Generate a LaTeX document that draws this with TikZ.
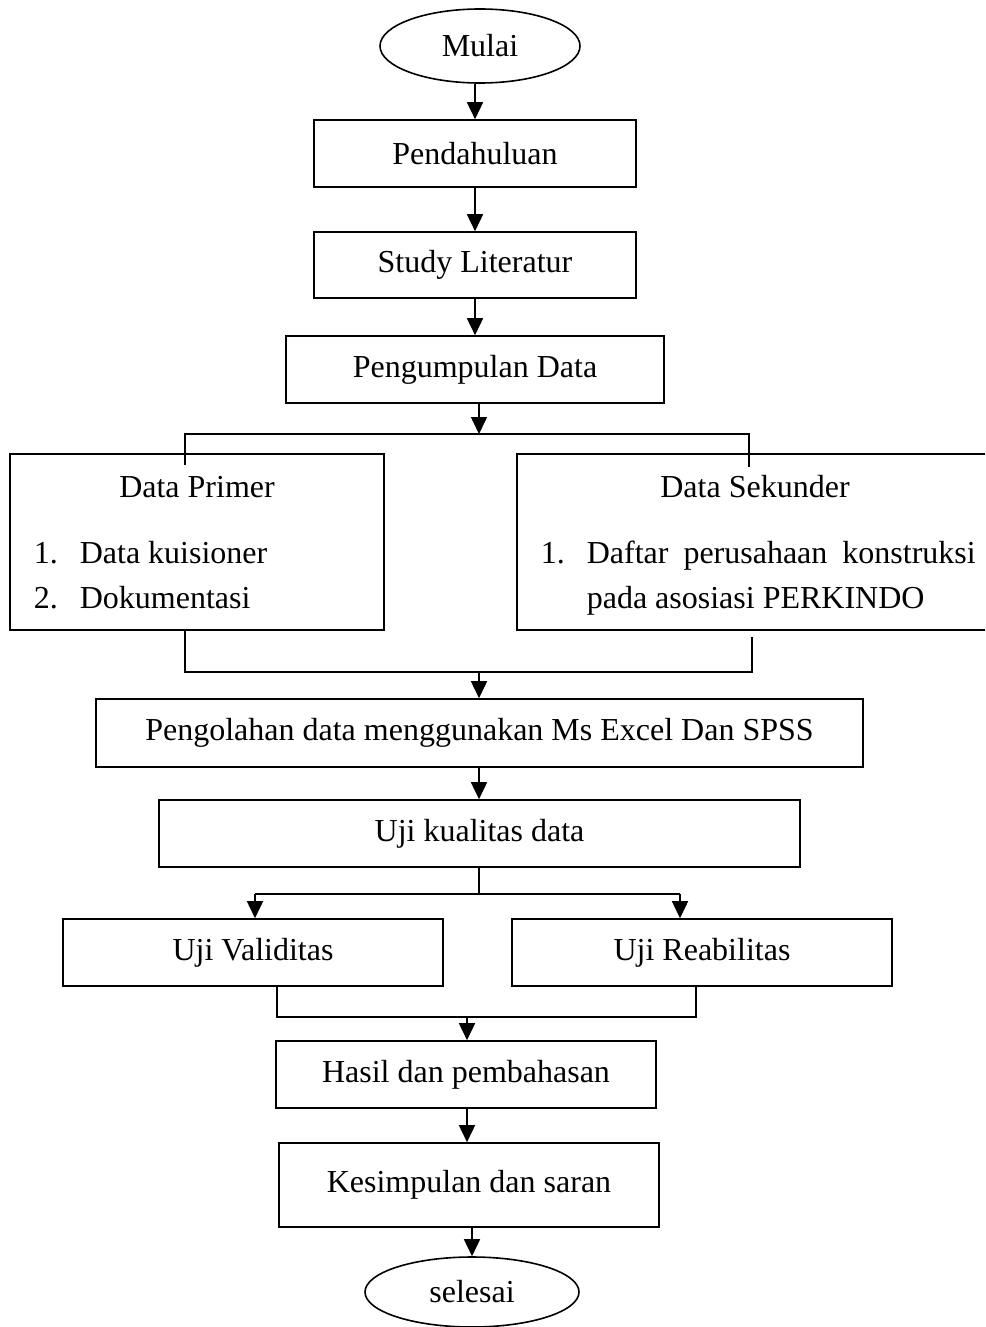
\documentclass[tikz,border=0pt]{standalone}
\usepackage{fontspec}
\setmainfont{Liberation Serif}
\usetikzlibrary{shapes.geometric, arrows.meta}

\tikzset{
    proses/.style = {draw, rectangle, inner sep = 0pt, minimum height = 67pt},
    terminal/.style = {draw, ellipse, inner sep = 0pt},
    panah/.style = {-{Triangle[length = 17pt, width = 16pt]}},
    butir/.style = {anchor = base west, inner sep = 0pt}
}

\begin{document}
\begin{tikzpicture}[x = 1pt, y = -1pt, line width = 1.6pt, font = \fontsize{32}{45}\selectfont] % alur penelitian
    \useasboundingbox (0, 0) rectangle (985, 1327);
    \clip (0, 0) rectangle (985, 1327);

    % Awal
    \node[terminal, minimum width = 200pt, minimum height = 74pt] (mulai) at (480, 46) {Mulai};
    \node[proses, minimum width = 322pt] (pendahuluan) at (475, 153.5) {Pendahuluan};
    \node[proses, minimum width = 322pt, minimum height = 66pt] (studi) at (475, 265) {Study Literatur};
    \node[proses, minimum width = 378pt] (pengumpulan) at (475, 369.5) {Pengumpulan Data};

    % Data primer dan sekunder
    \node[proses, minimum width = 374pt, minimum height = 176pt] (primer) at (197, 542) {};
    \node[proses, minimum width = 503pt, minimum height = 176pt] (sekunder) at (768.5, 542) {};
    \node (judulprimer) at (197, 487) {Data Primer};
    \node[butir] (noa) at (33, 563) {1.};
    \node[butir] (kuisioner) at (79, 563) {Data kuisioner};
    \node[butir] (nob) at (33, 608) {2.};
    \node[butir] (dokumentasi) at (79, 608) {Dokumentasi};
    \node (judulsekunder) at (755, 487) {Data Sekunder};
    \node[butir] (noc) at (540, 563) {1.};
    \node[butir] (daftar) at (586, 563) {\makebox[389pt][s]{Daftar perusahaan konstruksi}};
    \node[butir] (asosiasi) at (586, 608) {pada asosiasi PERKINDO};

    % Pengolahan
    \node[proses, minimum width = 767pt, minimum height = 68pt] (pengolahan) at (479.5, 733) {Pengolahan data menggunakan Ms Excel Dan SPSS};
    \node[proses, minimum width = 641pt] (kualitas) at (479.5, 833.5) {Uji kualitas data};
    \node[proses, minimum width = 380pt] (validitas) at (253, 952.5) {Uji Validitas};
    \node[proses, minimum width = 380pt] (reabilitas) at (702, 952.5) {Uji Reabilitas};
    \node[proses, minimum width = 380pt] (hasil) at (466, 1074.5) {Hasil dan pembahasan};
    \node[proses, minimum width = 380pt, minimum height = 84pt] (simpulan) at (469, 1185) {Kesimpulan dan saran};
    \node[terminal, minimum width = 214pt, minimum height = 70pt] (selesai) at (472, 1292) {selesai};

    % Titik cabang
    \coordinate (cabang) at (479, 434);
    \coordinate (cabangkiri) at (185, 434);
    \coordinate (cabangkanan) at (749, 434);
    \coordinate (masukkiri) at (185, 465);
    \coordinate (masukkanan) at (749, 467);
    \coordinate (gabung) at (479, 672);
    \coordinate (gabungkiri) at (185, 672);
    \coordinate (gabungkanan) at (752, 672);
    \coordinate (keluarkanan) at (752, 637);
    \coordinate (uji) at (479, 894);
    \coordinate (ujikiri) at (255, 894);
    \coordinate (ujikanan) at (680, 894);
    \coordinate (hasilkiri) at (277, 1017);
    \coordinate (hasilkanan) at (696, 1017);
    \coordinate (hasiltengah) at (467, 1017);

    % Alur
    \draw[panah] (pendahuluan.north |- mulai.south) -- (pendahuluan.north);
    \draw[panah] (pendahuluan) -- (studi);
    \draw[panah] (studi) -- (pengumpulan);
    \draw[panah] (pengumpulan.south -| cabang) -- (cabang);
    \draw (masukkiri) -- (cabangkiri) -- (cabangkanan) -- (masukkanan);
    \draw (primer.south -| gabungkiri) -- (gabungkiri) -- (gabungkanan) -- (keluarkanan);
    \draw[panah] (gabung) -- (pengolahan.north -| gabung);
    \draw[panah] (pengolahan.south -| gabung) -- (kualitas.north -| gabung);
    \draw (kualitas.south -| uji) -- (uji);
    \draw (ujikiri) -- (ujikanan);
    \draw[panah] (ujikiri) -- (validitas.north -| ujikiri);
    \draw[panah] (ujikanan) -- (reabilitas.north -| ujikanan);
    \draw (validitas.south -| hasilkiri) -- (hasilkiri) -- (hasilkanan) -- (reabilitas.south -| hasilkanan);
    \draw[panah] (hasiltengah) -- (hasil.north -| hasiltengah);
    \draw[panah] (hasil.south -| hasiltengah) -- (simpulan.north -| hasiltengah);
    \draw[panah] (simpulan.south -| selesai) -- (selesai);
\end{tikzpicture}
\end{document}
